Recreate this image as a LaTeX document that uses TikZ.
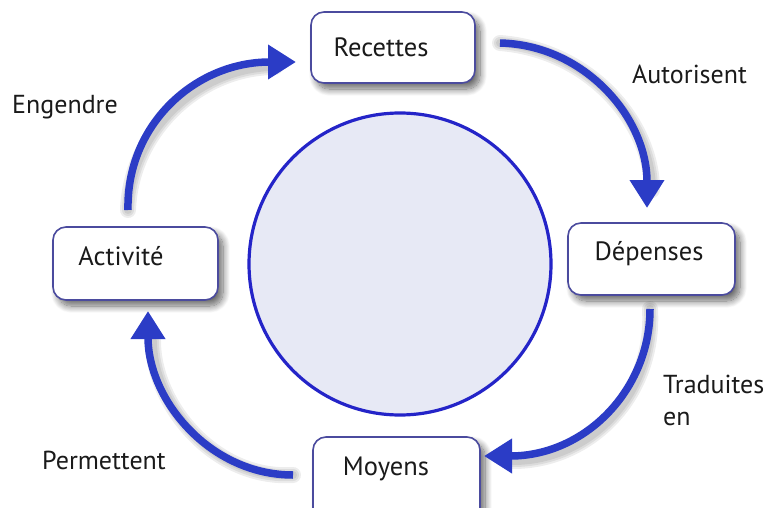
\documentclass[tikz,border=0pt]{standalone}
\usepackage{fontspec}
\setmainfont{PT Sans}
\usetikzlibrary{arrows.meta,shadows.blur}
\definecolor{arrowblue}{HTML}{2B3CC6}
\definecolor{circblue}{HTML}{2424C8}
\definecolor{circfill}{HTML}{E7E9F5}
\definecolor{boxline}{HTML}{4B4B9E}
\definecolor{txtcol}{HTML}{1A1A1A}
\tikzset{
  box/.style={draw=boxline, line width=1.6pt, fill=white, rounded corners=13pt,
    blur shadow={shadow blur steps=12, shadow xshift=5pt, shadow yshift=-6pt, shadow opacity=60, shadow blur radius=7pt}},
  txt/.style={text=txtcol, font=\fontsize{26.5}{32}\selectfont, inner sep=0pt},
  lbl/.style={text=txtcol, font=\fontsize{26}{32}\selectfont, inner sep=0pt, anchor=west, align=left},
  flow/.style={draw=arrowblue, line width=7.5pt, -{Triangle[width=33pt,length=28pt]}},
  shad/.style={draw=black, opacity=0.07, line width=#1, line cap=round, shift={(5,5)}},
}
\begin{document}
\begin{tikzpicture}[x=1pt,y=-1pt]
\useasboundingbox (0,0) rectangle (768,508);
% central circle
\node[circle, draw=circblue, fill=circfill, line width=3.2pt, minimum size=302pt, inner sep=0pt] (core) at (400,264) {};
% boxes
\node[box, minimum width=164pt, minimum height=71pt] (rec) at (393,47.5) {};
\node[box, minimum width=165pt, minimum height=73pt] (act) at (135.5,263.5) {};
\node[box, minimum width=167pt, minimum height=72pt] (dep) at (651.5,259) {};
\node[box, minimum width=167pt, minimum height=90pt] (moy) at (396.5,482) {};
% box texts
\node[txt] (rect) at (381,47) {Recettes};
\node[txt] (actt) at (121,256) {Activité};
\node[txt] (dept) at (649,254) {Dépenses};
\node[txt] (moyt) at (386,469) {Moyens};
% arrow anchor coordinates
\coordinate (a1s) at (500,43);
\coordinate (a1e) at (647,208);
\coordinate (a2s) at (650,309);
\coordinate (a2e) at (484,456);
\coordinate (a3s) at (293,475);
\coordinate (a3e) at (148,311);
\coordinate (a4s) at (128,210);
\coordinate (a4e) at (296,62);
% arrow shadows
\foreach \w in {16pt,12pt,8pt}{
  \draw[shad=\w] (a1s) .. controls (585,45) and (647,118) .. (647,185);
  \draw[shad=\w] (a2s) .. controls (650,390) and (585,456) .. (508,456);
  \draw[shad=\w] (a3s) .. controls (210,475) and (148,400) .. (148,336);
  \draw[shad=\w] (a4s) .. controls (126,125) and (195,62) .. (270,62);
}
% arrows
\draw[flow] (a1s) .. controls (585,45) and (647,118) .. (a1e);
\draw[flow] (a2s) .. controls (650,390) and (585,456) .. (a2e);
\draw[flow] (a3s) .. controls (210,475) and (148,400) .. (a3e);
\draw[flow] (a4s) .. controls (126,125) and (195,62) .. (a4e);
% labels
\node[lbl] (l1) at (12,107) {Engendre};
\node[lbl] (l2) at (632,74) {Autorisent};
\node[lbl, anchor=north west] (l3) at (663,375) {Traduites\\en};
\node[lbl] (l4) at (42,460) {Permettent};
\end{tikzpicture}
\end{document}
